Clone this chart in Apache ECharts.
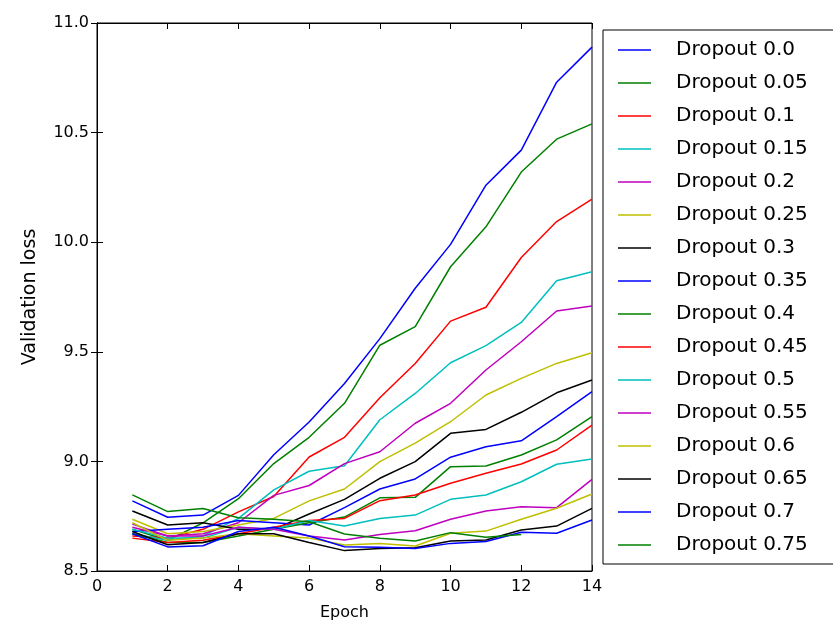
<!DOCTYPE html>
<html>
<head>
<meta charset="utf-8">
<script src="https://cdn.jsdelivr.net/npm/echarts@6/dist/echarts.min.js"></script>
<style>
html,body{margin:0;padding:0;background:#fff;}
#chart{width:833px;height:624px;}
</style>
</head>
<body>
<div id="chart"></div>
<script>
const epochs = [1,2,3,4,5,6,7,8,9,10,11,12,13,14];
const seriesNames = ['Dropout 0.0','Dropout 0.05','Dropout 0.1','Dropout 0.15','Dropout 0.2','Dropout 0.25','Dropout 0.3','Dropout 0.35','Dropout 0.4','Dropout 0.45','Dropout 0.5','Dropout 0.55','Dropout 0.6','Dropout 0.65','Dropout 0.7','Dropout 0.75'];
const colors = ['#0000ff','#008000','#ff0000','#00bfbf','#bf00bf','#bfbf00','#000000','#0000ff','#008000','#ff0000','#00bfbf','#bf00bf','#bfbf00','#000000','#0000ff','#008000'];

const d000 = [8.82,8.745,8.755,8.845,9.03,9.18,9.355,9.56,9.79,9.99,10.26,10.42,10.73,10.89];
const d005 = [8.69,8.64,8.72,8.83,8.99,9.11,9.265,9.53,9.615,9.888,10.07,10.32,10.47,10.54];
const d010 = [8.66,8.65,8.69,8.77,8.84,9.02,9.11,9.29,9.447,9.64,9.703,9.93,10.094,10.196];
const d015 = [8.67,8.64,8.66,8.74,8.87,8.955,8.98,9.19,9.31,9.45,9.528,9.634,9.824,9.865];
const d020 = [8.714,8.66,8.67,8.72,8.845,8.89,8.99,9.044,9.174,9.265,9.417,9.546,9.686,9.709];
const d025 = [8.736,8.67,8.68,8.71,8.74,8.82,8.874,8.999,9.083,9.181,9.303,9.379,9.447,9.496];
const d030 = [8.774,8.71,8.72,8.69,8.69,8.76,8.827,8.923,8.999,9.128,9.146,9.224,9.313,9.371];
const d035 = [8.68,8.69,8.70,8.73,8.72,8.71,8.789,8.874,8.92,9.019,9.067,9.094,9.204,9.318];
const d040 = [8.67,8.63,8.63,8.66,8.69,8.72,8.746,8.834,8.836,8.976,8.979,9.029,9.098,9.204];
const d045 = [8.65,8.63,8.64,8.67,8.70,8.73,8.74,8.821,8.847,8.90,8.946,8.988,9.052,9.166];
const d050 = [8.69,8.65,8.65,8.70,8.69,8.73,8.705,8.74,8.755,8.827,8.847,8.907,8.987,9.011];
const d055 = [8.70,8.66,8.66,8.70,8.69,8.66,8.641,8.667,8.684,8.736,8.774,8.793,8.789,8.918];
const d060 = [8.72,8.64,8.65,8.67,8.66,8.65,8.619,8.626,8.614,8.672,8.682,8.736,8.786,8.851];
const d065 = [8.68,8.62,8.63,8.67,8.67,8.63,8.593,8.603,8.606,8.637,8.641,8.687,8.705,8.786];
const d070 = [8.67,8.61,8.615,8.68,8.70,8.66,8.611,8.608,8.603,8.626,8.635,8.677,8.672,8.733];
const d075 = [8.847,8.771,8.785,8.743,8.736,8.725,8.669,8.649,8.637,8.675,8.654,8.667];

const allValues = [d000,d005,d010,d015,d020,d025,d030,d035,d040,d045,d050,d055,d060,d065,d070,d075];

const xTicks = [0,2,4,6,8,10,12,14];
const yTicks = [8.5,9.0,9.5,10.0,10.5,11.0];

const FONT = 'DejaVu Sans';
const chart = echarts.init(document.getElementById('chart'), null, {renderer:'canvas'});

const series = allValues.map((vals, i) => ({
  name: seriesNames[i],
  type: 'line',
  xAxisIndex: 0,
  yAxisIndex: 0,
  data: vals.map((v, j) => [epochs[j], v]),
  showSymbol: false,
  symbol: 'none',
  lineStyle: {width: 1.5, color: colors[i]},
  itemStyle: {color: colors[i]},
  animation: false,
  clip: true
}));

const tickInside = {show:true, inside:true, length:6, lineStyle:{color:'#000', width:1}};

chart.setOption({
  animation: false,
  backgroundColor: '#fff',
  grid: {left:97, top:23, width:495, height:548, containLabel:false, outerBoundsMode:'none',
         show:true, borderColor:'#000', borderWidth:1, backgroundColor:'transparent'},
  xAxis: [
    {type:'value', min:0, max:14, interval:2, position:'bottom',
     axisLine:{show:true, lineStyle:{color:'#000', width:1}},
     axisTick: tickInside, splitLine:{show:false},
     axisLabel:{color:'#000', fontSize:16, fontFamily:FONT, margin:8,
       formatter: v => xTicks.indexOf(v) >= 0 ? String(v) : ''},
     name:'Epoch', nameLocation:'middle', nameGap:34,
     nameTextStyle:{color:'#000', fontSize:16, fontFamily:FONT}},
    {type:'value', min:0, max:14, interval:2, position:'top',
     axisLine:{show:true, lineStyle:{color:'#000', width:1}},
     axisTick: tickInside, axisLabel:{show:false}, splitLine:{show:false}}
  ],
  yAxis: [
    {type:'value', min:8.5, max:11.0, interval:0.5, position:'left',
     axisLine:{show:true, lineStyle:{color:'#000', width:1}},
     axisTick: tickInside, splitLine:{show:false},
     axisLabel:{color:'#000', fontSize:16, fontFamily:FONT, margin:8,
       formatter: v => yTicks.indexOf(v) >= 0 ? v.toFixed(1) : ''},
     name:'Validation loss', nameLocation:'middle', nameGap:57, nameRotate:90,
     nameTextStyle:{color:'#000', fontSize:19, fontFamily:FONT}},
    {type:'value', min:8.5, max:11.0, interval:0.5, position:'right',
     axisLine:{show:true, lineStyle:{color:'#000', width:1}},
     axisTick: tickInside, axisLabel:{show:false}, splitLine:{show:false}}
  ],
  legend: {
    orient:'vertical', left:603, top:30,
    data: seriesNames.map((n,i)=>({name:n, itemStyle:{color:colors[i]}})),
    icon:'rect', itemWidth:33, itemHeight:1.5, itemGap:13,
    padding:[10, 40, 9, 15],
    borderColor:'#000', borderWidth:1, backgroundColor:'#fff',
    textStyle:{color:'#000', fontSize:20, fontFamily:FONT, lineHeight:20, padding:[0,0,0,20]},
    selectedMode:false, inactiveColor:'#ccc'
  },
  series: series
});
</script>
</body>
</html>
